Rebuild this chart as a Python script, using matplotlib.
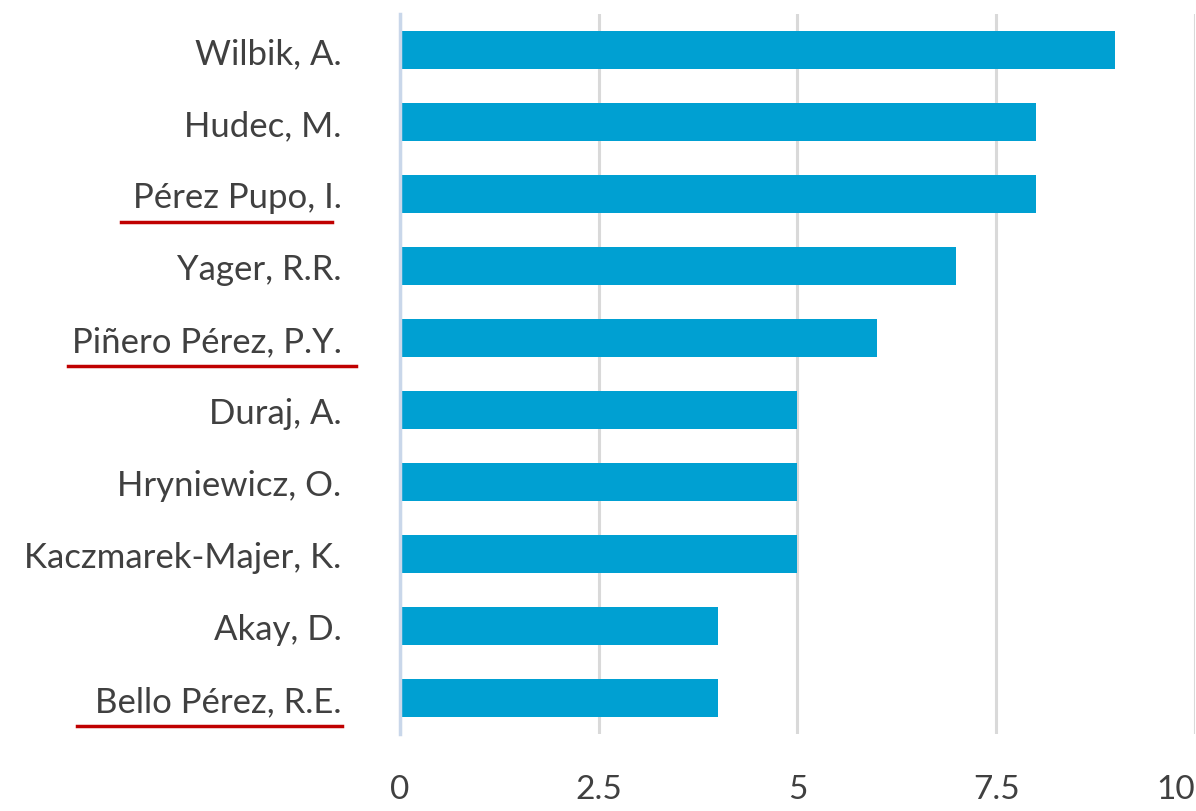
import matplotlib
matplotlib.use("Agg")
import matplotlib.pyplot as plt
from matplotlib.lines import Line2D

authors = ["Wilbik, A.", "Hudec, M.", "Pérez Pupo, I.", "Yager, R.R.",
           "Piñero Pérez, P.Y.", "Duraj, A.", "Hryniewicz, O.",
           "Kaczmarek-Majer, K.", "Akay, D.", "Bello Pérez, R.E."]
docs = [9, 8, 8, 7, 6, 5, 5, 5, 4, 4]
# names underlined in red: (left overhang, right shift) in pixels
underlined = {"Pérez Pupo, I.": (12, -10),
              "Piñero Pérez, P.Y.": (4, 14),
              "Bello Pérez, R.E.": (18, 0)}
xticks = [0, 2.5, 5, 7.5, 10]
xtick_labels = ["0", "2.5", "5", "7.5", "10"]

plt.rcParams['font.family'] = ['Lato', 'DejaVu Sans']

fig = plt.figure(figsize=(11.96, 8.12), dpi=100)
ax = fig.add_axes([0.3344, 0.095, 0.6646, 0.8865])

ypos = list(range(len(authors)))
ax.barh(ypos, docs, height=0.53, color='#00a0d2', zorder=3)
ax.set_ylim(len(authors) - 0.5, -0.5)
ax.set_xlim(0, 10)

ax.set_xticks(xticks)
ax.set_xticklabels(xtick_labels)
ax.set_yticks(ypos)
ax.set_yticklabels(authors)
ax.get_xticklabels()[-1].set_ha('right')

ax.tick_params(axis='y', length=0, pad=42, labelsize=25, labelcolor='#404040')
ax.tick_params(axis='x', length=0, pad=29, labelsize=24, labelcolor='#404040')

ax.grid(axis='x', color='#d9d9d9', linewidth=2.2, zorder=0)
for s in ['top', 'right', 'bottom']:
    ax.spines[s].set_visible(False)
ax.spines['left'].set_color('#c9d7ea')
ax.spines['left'].set_linewidth(2.5)
ax.spines['left'].set_zorder(4)

# red underline under selected names
fig.canvas.draw()
renderer = fig.canvas.get_renderer()
W, H = fig.bbox.width, fig.bbox.height
for lab, yv in zip(ax.get_yticklabels(), ypos):
    name = lab.get_text()
    if name in underlined:
        bb = lab.get_window_extent(renderer)
        left, right = underlined[name]
        yc = ax.transData.transform((0, yv))[1]
        y = yc - 28
        fig.add_artist(Line2D([(bb.x0 - left) / W, (bb.x1 + right) / W],
                              [y / H, y / H],
                              color='#c00000', linewidth=2.5,
                              transform=fig.transFigure))

fig.savefig("out.png", dpi=100)
